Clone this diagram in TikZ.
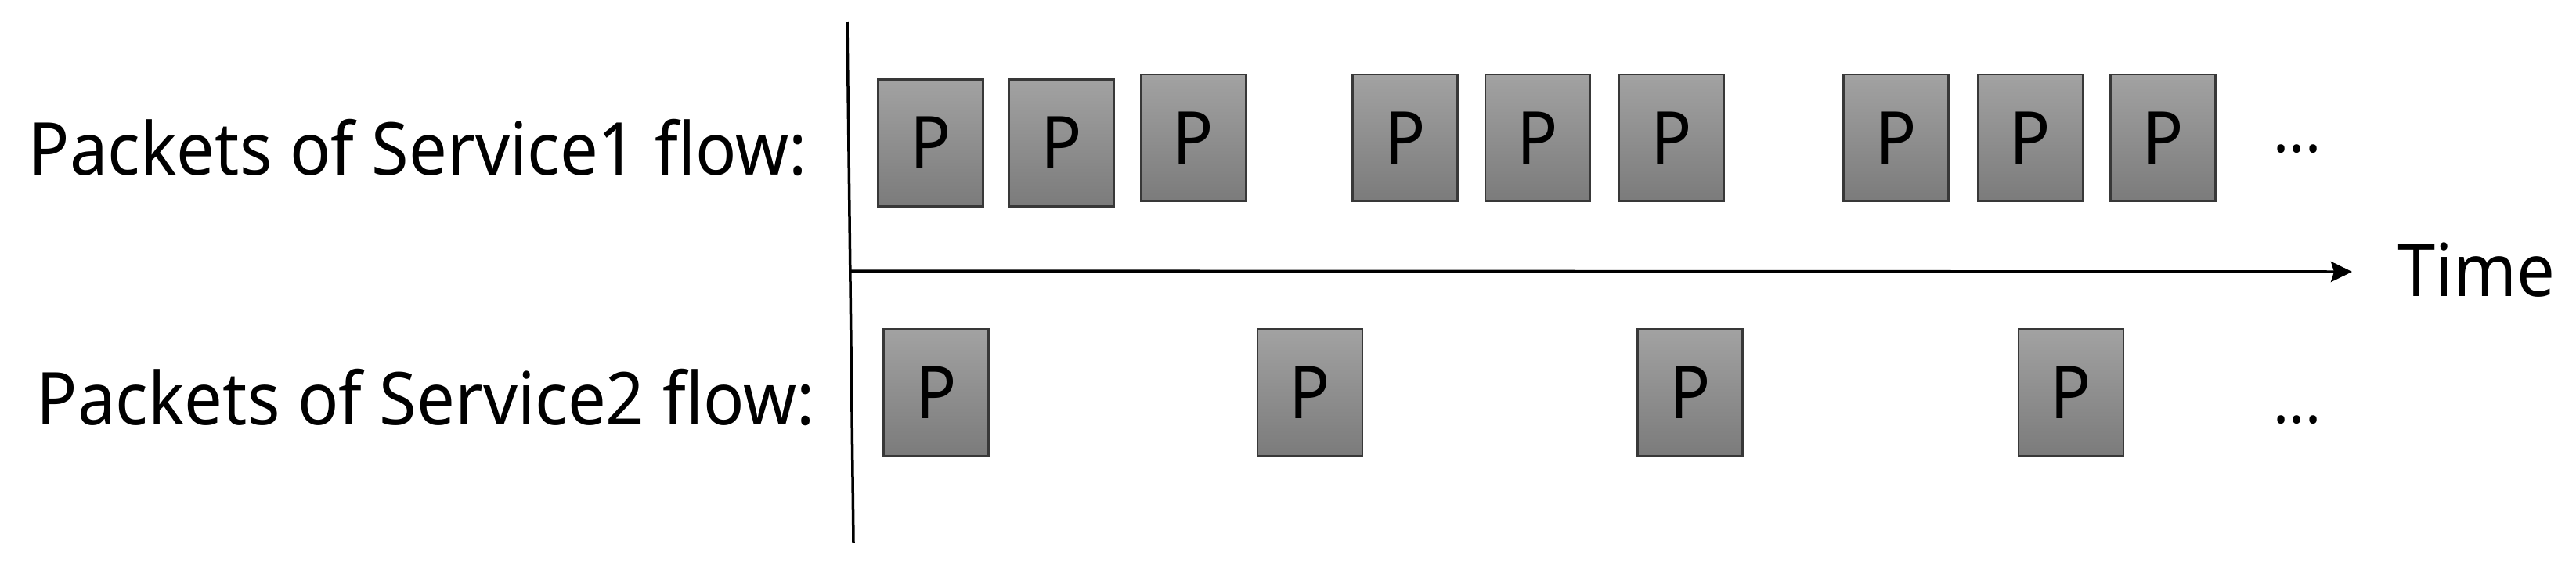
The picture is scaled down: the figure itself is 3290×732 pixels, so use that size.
\documentclass[tikz,border=0pt]{standalone}
\usepackage{fontspec}
\setmainfont{Noto Sans}[FakeStretch=0.93]
\usetikzlibrary{arrows.meta}
\definecolor{ptop}{HTML}{A2A2A2}
\definecolor{pbot}{HTML}{7B7B7B}
\definecolor{pedge}{HTML}{383838}
\tikzset{
  pkt/.style={rectangle, draw=pedge, line width=0.025cm, top color=ptop, bottom color=pbot,
    minimum width=1.34cm, minimum height=1.62cm, inner sep=0pt, text=black,
    font=\fontsize{26.5}{30}\selectfont},
  lbl/.style={inner sep=0pt, font=\fontsize{26.5}{30}\selectfont},
  dotsl/.style={inner sep=0pt, font=\fontsize{23}{26}\selectfont},
  axisline/.style={line width=0.035cm, black}
}
\begin{document}
\begin{tikzpicture}[x=0.01cm, y=-0.01cm]
\useasboundingbox[fill=white] (0,0) rectangle (3290,732);
% axes
\coordinate (vtop) at (1082,28);
\coordinate (vbot) at (1090,693);
\coordinate (hstart) at (1084,346);
\coordinate (hend) at (3004,347);
\draw[axisline] (vtop) -- (vbot);
\draw[axisline, -{Stealth[length=0.27cm, width=0.26cm, inset=0.04cm]}] (hstart) -- (hend);
% labels
\node[lbl, anchor=base east] (l1) at (1031,223) {Packets of Service1 flow:};
\node[lbl, anchor=base east] (l2) at (1041,542) {Packets of Service2 flow:};
\node[lbl, anchor=base west] (time) at (3062,378) {Time};
% row 1 packets
\node[pkt] (a1) at (1188.5,182.5) {P};
\node[pkt] (a2) at (1356,182.5) {P};
\node[pkt] (a3) at (1524,176) {P};
\node[pkt] (a4) at (1794.5,176) {P};
\node[pkt] (a5) at (1964,176) {P};
\node[pkt] (a6) at (2134.5,176) {P};
\node[pkt] (a7) at (2421.5,176) {P};
\node[pkt] (a8) at (2593,176) {P};
\node[pkt] (a9) at (2762.5,176) {P};
% row 2 packets
\node[pkt] (b1) at (1195.5,501) {P};
\node[pkt] (b2) at (1673,501) {P};
\node[pkt] (b3) at (2158.5,501) {P};
\node[pkt] (b4) at (2645,501) {P};
% dots
\node[dotsl, anchor=base] (d1) at (2934,194) {...};
\node[dotsl, anchor=base] (d2) at (2934,540) {...};
\end{tikzpicture}
\end{document}
